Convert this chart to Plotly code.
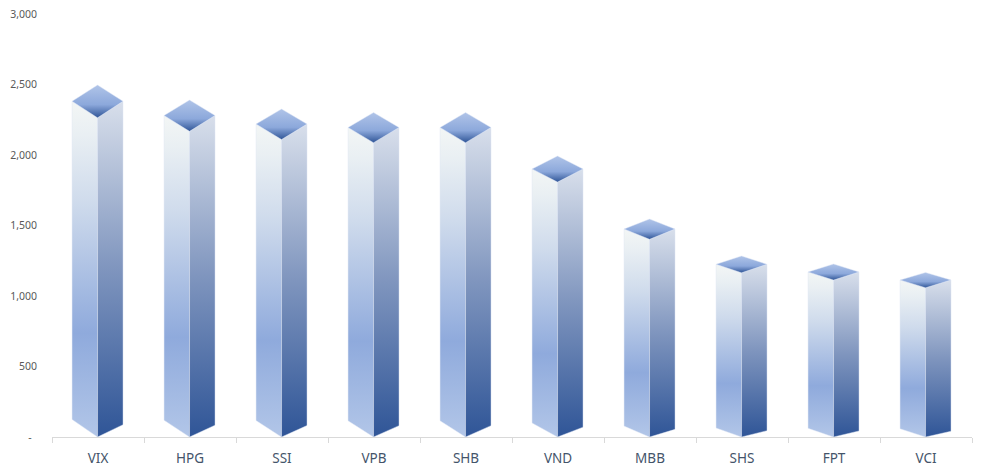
import plotly.graph_objects as go

categories = ["VIX", "HPG", "SSI", "VPB", "SHB", "VND", "MBB", "SHS", "FPT", "VCI"]
values = [2496, 2390, 2326, 2301, 2301, 1993, 1546, 1284, 1227, 1167]
y_ticks = [0, 500, 1000, 1500, 2000, 2500, 3000]
y_tick_labels = ["-\u00a0\u00a0", "500", "1,000", "1,500", "2,000", "2,500", "3,000"]

HALF = 0.277
SHIFT = -0.005

LEFT = [[0, "#B2C6E8"], [0.31, "#8FAADC"], [0.7, "#CFDBEC"], [0.9, "#E9EFF3"], [1, "#F3F6F5"]]
RIGHT = [[0, "#2F5597"], [0.5, "#7F95BE"], [1, "#D8DFEB"]]
TOP = [[0, "#2F5597"], [0.4, "#8CA8DB"], [1, "#B0C4E8"]]
EDGE = "rgba(225,233,246,0.55)"


def face(xs, ys, scale):
    return go.Scatter(
        x=xs + xs[:1], y=ys + ys[:1], mode="lines", fill="toself",
        fillgradient=dict(type="vertical", colorscale=scale),
        line=dict(color=EDGE, width=0.8), hoverinfo="skip", showlegend=False,
    )


fig = go.Figure()
for i, v in enumerate(values):
    c = i + 0.5 + SHIFT
    l, r = c - HALF, c + HALF
    fig.add_trace(face([l, c, c, l], [v * 0.05, 0, v * 0.907, v * 0.954], LEFT))
    fig.add_trace(face([c, r, r, c], [0, v * 0.035, v * 0.954, v * 0.907], RIGHT))
    fig.add_trace(face([l, c, r, c], [v * 0.954, v, v * 0.954, v * 0.907], TOP))

fig.update_layout(
    template="none",
    width=989, height=473, margin=dict(l=52, r=17, t=14, b=36, pad=0),
    paper_bgcolor="white", plot_bgcolor="white", showlegend=False,
    font=dict(family="Noto Sans", size=12, color="#595959"),
)
fig.update_xaxes(
    automargin=False,
    range=[0, 10], tickvals=[i + 0.5 for i in range(len(categories))], ticktext=categories,
    ticks="", showgrid=False, zeroline=False, showline=True, linecolor="#D9D9D9", linewidth=1,
    ticklabelstandoff=9, tickfont=dict(size=13.5, color="#44546A"),
    minor=dict(tickvals=list(range(len(categories) + 1)), ticks="outside", ticklen=5,
               tickcolor="#D9D9D9", tickwidth=1, showgrid=False),
)
fig.update_yaxes(
    automargin=False,
    range=[0, 3000], tickvals=y_ticks, ticktext=y_tick_labels, showgrid=False, zeroline=False,
    showline=False, ticks="", ticklabelstandoff=14, tickfont=dict(size=10.5, color="#595959"),
)
fig.write_html("out.html", config={"displayModeBar": False}, post_script="document.body.style.margin='0';")
